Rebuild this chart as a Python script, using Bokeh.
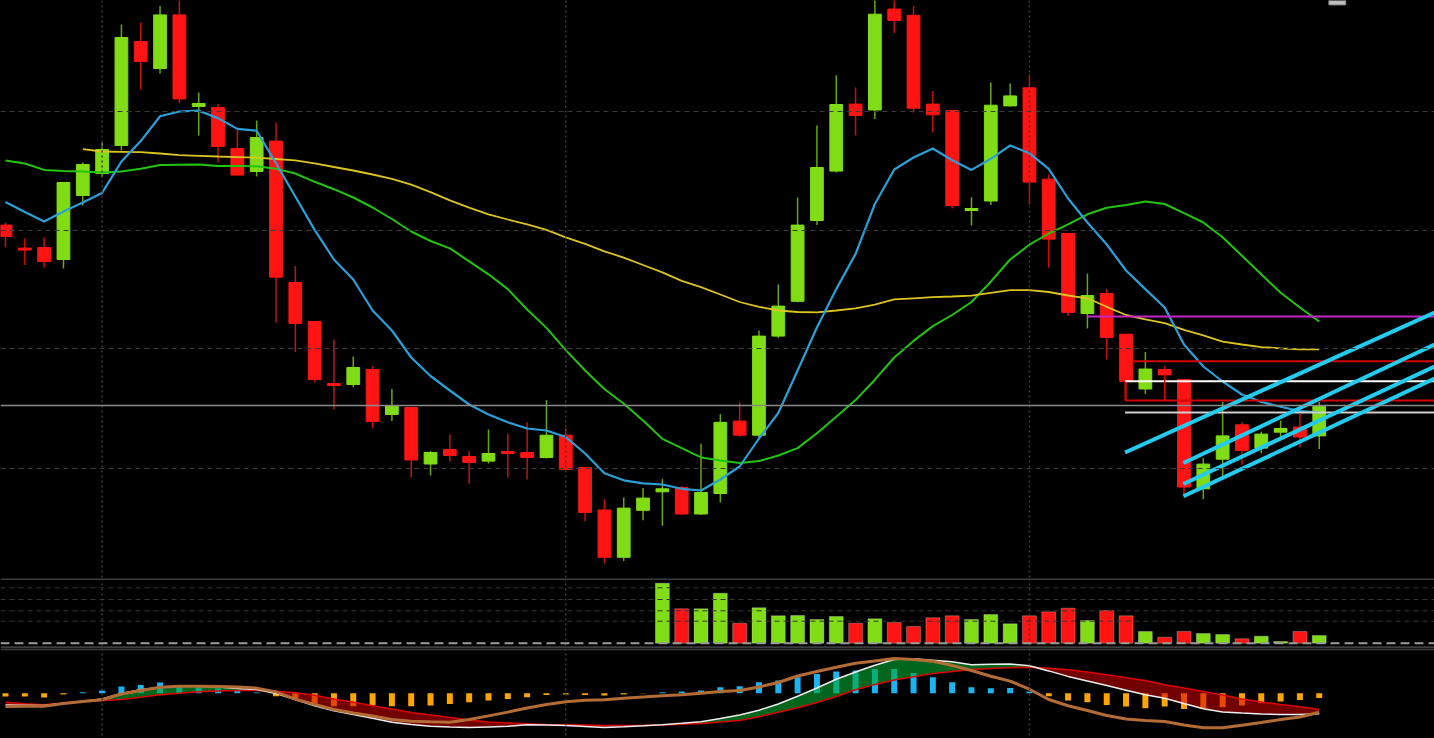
import numpy as np
from bokeh.plotting import figure
from bokeh.layouts import column
from bokeh.models import Span, Range1d, ColumnDataSource, GlobalInlineStyleSheet
from bokeh.embed import file_html
from bokeh.resources import INLINE

# ---------------- data ----------------
opens = [37.54, 35.16, 35.30, 34.10, 40.50, 42.70, 45.50, 55.90, 53.20, 58.56,
         49.40, 49.30, 45.20, 42.90, 45.94, 31.80, 27.90, 21.62, 21.60, 23.10,
         18.60, 19.30, 13.65, 15.10, 14.40, 13.94, 14.82, 14.80, 14.30, 16.53,
         13.30, 9.05, 4.32, 9.02, 10.87, 11.30, 8.65, 10.70, 17.94, 16.53,
         26.44, 29.92, 38.00, 42.94, 49.64, 49.05, 59.15, 58.52, 49.64, 49.00,
         39.05, 39.95, 49.46, 51.27, 42.13, 36.70, 28.70, 30.70, 26.63, 21.15,
         23.10, 22.10, 11.17, 14.13, 17.57, 15.24, 16.83, 17.34, 16.46]
highs = [37.80, 36.20, 36.30, 41.80, 43.80, 45.80, 57.60, 57.80, 59.45, 60.50,
         50.80, 49.64, 47.05, 48.00, 47.80, 33.44, 27.90, 26.10, 24.40, 23.45,
         21.15, 19.30, 14.94, 16.60, 14.94, 17.10, 16.64, 17.82, 20.04, 17.20,
         13.30, 10.13, 10.31, 11.24, 12.16, 11.46, 15.68, 18.64, 19.80, 27.00,
         31.60, 40.30, 47.50, 52.53, 51.30, 60.20, 60.20, 59.45, 50.94, 49.00,
         40.32, 51.80, 51.70, 52.60, 42.60, 36.70, 32.70, 31.14, 26.63, 24.85,
         23.45, 22.10, 14.24, 19.86, 17.82, 16.90, 18.00, 18.64, 19.86]
lows = [35.30, 33.55, 33.30, 33.20, 39.50, 42.30, 45.00, 51.10, 52.70, 49.75,
        46.50, 43.80, 42.50, 42.40, 27.80, 24.85, 21.80, 19.10, 21.34, 17.20,
        17.94, 12.30, 12.50, 13.90, 11.70, 13.70, 12.30, 12.10, 14.20, 13.00,
        7.90, 3.70, 3.95, 8.02, 7.47, 8.55, 8.55, 9.80, 16.40, 16.10,
        26.26, 29.80, 37.54, 42.80, 46.50, 48.16, 56.74, 48.80, 46.80, 39.20,
        37.50, 39.54, 49.40, 39.60, 33.30, 28.44, 27.20, 24.10, 20.00, 20.64,
        20.00, 10.60, 10.13, 12.46, 13.57, 14.70, 16.35, 15.30, 15.16]
closes = [36.40, 35.12, 33.90, 41.80, 43.60, 45.10, 56.30, 53.90, 58.56, 50.16,
          49.70, 45.40, 42.54, 46.30, 32.33, 27.70, 22.10, 21.58, 23.30, 17.90,
          19.45, 14.05, 14.80, 14.50, 13.80, 14.70, 14.78, 14.30, 16.53, 13.10,
          8.80, 4.32, 9.24, 10.24, 11.17, 8.65, 10.80, 17.82, 16.53, 26.44,
          29.44, 37.54, 43.30, 49.60, 48.50, 58.63, 58.00, 49.23, 48.57, 39.50,
          39.15, 49.53, 50.46, 41.84, 36.14, 28.81, 30.50, 26.30, 21.90, 23.15,
          22.56, 11.35, 13.64, 16.46, 15.00, 16.64, 17.20, 16.35, 19.42]

ma_fast = [39.84, 38.85, 37.90, 38.90, 39.81, 40.76, 43.90, 45.94, 48.42, 48.90,
           48.98, 48.24, 47.16, 46.98, 43.72, 40.40, 37.06, 34.10, 32.10, 29.00,
           27.00, 24.30, 22.45, 21.00, 19.60, 18.60, 17.82, 17.20, 17.00, 16.35,
           14.70, 12.72, 12.02, 11.72, 11.60, 11.17, 11.00, 12.10, 13.40, 16.20,
           18.75, 23.00, 27.30, 31.14, 34.66, 39.65, 43.10, 44.30, 45.20, 44.02,
           43.06, 44.17, 45.50, 44.72, 43.17, 40.20, 37.80, 35.60, 33.00, 31.14,
           29.30, 25.60, 23.40, 21.90, 20.60, 19.86, 19.38, 18.94, 18.80]
ma_mid = [44.00, 43.70, 43.06, 42.95, 42.90, 42.80, 42.90, 43.17, 43.54, 43.57,
          43.60, 43.46, 43.45, 43.43, 43.17, 42.70, 41.87, 41.13, 40.30, 39.30,
          38.15, 36.90, 35.95, 35.21, 33.92, 32.62, 31.14, 29.10, 27.26, 25.04,
          23.00, 21.15, 19.67, 18.00, 16.16, 15.24, 14.31, 14.00, 13.75, 13.94,
          14.50, 15.24, 16.72, 18.38, 20.04, 22.08, 24.30, 25.96, 27.44, 28.55,
          29.85, 31.88, 34.10, 35.58, 36.70, 37.62, 38.62, 39.28, 39.54, 39.91,
          39.65, 38.73, 37.80, 36.32, 34.47, 32.62, 30.77, 29.30, 27.90]
ma_slow_start = 4
ma_slow = [45.13, 44.90, 44.87, 44.83, 44.70, 44.54, 44.47, 44.40, 44.34, 44.28,
           44.15, 44.02, 43.72, 43.35, 43.00, 42.60, 42.17, 41.58, 40.84, 40.02,
           39.28, 38.62, 38.10, 37.62, 37.06, 36.32, 35.66, 34.92, 34.29, 33.55,
           32.81, 31.96, 31.33, 30.60, 29.85, 29.37, 29.00, 28.85, 28.81, 29.00,
           29.22, 29.59, 30.11, 30.22, 30.33, 30.40, 30.48, 30.77, 31.03, 31.03,
           30.85, 30.50, 30.22, 29.37, 28.55, 28.11, 27.74, 27.07, 26.52, 25.89,
           25.60, 25.34, 25.22, 25.11, 25.11]

vol_start = 34
volume = [6000, 3440, 3440, 5000, 2000, 3540, 2740, 2770, 2370, 2670,
          2000, 2440, 2070, 1670, 2540, 2740, 2370, 2870, 1940, 2740,
          3140, 3500, 2270, 3270, 2740, 1170, 600, 1170, 970, 870,
          440, 700, 170, 1170, 770]

dif = [-1.17, -1.20, -1.23, -1.01, -0.81, -0.58, -0.03, 0.34, 0.60, 0.70,
       0.70, 0.62, 0.47, 0.37, -0.03, -0.63, -1.25, -1.75, -2.13, -2.50,
       -2.90, -3.13, -3.30, -3.38, -3.43, -3.37, -3.31, -3.15, -3.18, -3.23,
       -3.33, -3.43, -3.35, -3.26, -3.15, -3.01, -2.85, -2.53, -2.18, -1.70,
       -1.08, -0.30, 0.52, 1.39, 2.12, 2.79, 3.37, 3.44, 3.30, 3.15,
       2.84, 2.89, 2.91, 2.74, 2.23, 1.68, 1.22, 0.77, 0.30, -0.15,
       -0.50, -1.03, -1.55, -1.89, -1.99, -2.07, -2.13, -2.12, -2.06]
dea = [-0.91, -1.05, -1.16, -0.99, -0.83, -0.73, -0.63, -0.40, -0.16, -0.01,
       0.15, 0.23, 0.27, 0.27, 0.19, 0.04, -0.21, -0.58, -0.91, -1.26,
       -1.59, -1.93, -2.19, -2.42, -2.68, -2.88, -2.97, -3.06, -3.13, -3.15,
       -3.19, -3.23, -3.23, -3.23, -3.18, -3.11, -3.03, -2.89, -2.73, -2.36,
       -1.91, -1.46, -0.93, -0.33, 0.34, 0.88, 1.32, 1.65, 1.97, 2.17,
       2.37, 2.47, 2.55, 2.60, 2.49, 2.35, 2.11, 1.84, 1.54, 1.27,
       0.85, 0.53, 0.17, -0.19, -0.59, -0.88, -1.13, -1.36, -1.63]
macd_slow = [-1.33, -1.31, -1.30, -1.03, -0.82, -0.65, -0.08, 0.27, 0.60, 0.70,
             0.70, 0.67, 0.61, 0.51, 0.13, -0.60, -1.12, -1.63, -1.97, -2.29,
             -2.63, -2.80, -2.86, -2.90, -2.63, -2.27, -1.89, -1.48, -1.13, -0.85,
             -0.70, -0.66, -0.51, -0.37, -0.26, -0.16, 0.00, 0.17, 0.27, 0.62,
             1.07, 1.72, 2.17, 2.60, 2.99, 3.23, 3.47, 3.37, 3.19, 2.77,
             2.27, 1.70, 1.21, 0.40, -0.63, -1.25, -1.73, -2.23, -2.57, -2.73,
             -2.83, -3.18, -3.46, -3.46, -3.20, -2.93, -2.63, -2.38, -1.90]
hist = [-0.33, -0.33, -0.43, -0.13, 0.10, 0.27, 0.67, 0.83, 1.07, 0.75,
        0.60, 0.50, 0.23, 0.07, -0.30, -0.50, -1.07, -1.30, -1.30, -1.23,
        -1.30, -1.30, -1.23, -1.07, -0.90, -0.73, -0.57, -0.40, -0.17, -0.13,
        -0.17, -0.23, -0.13, -0.03, 0.10, 0.17, 0.27, 0.60, 0.70, 1.10,
        1.27, 1.60, 1.93, 2.17, 2.27, 2.43, 2.43, 2.03, 1.60, 1.10,
        0.60, 0.50, 0.53, 0.17, -0.30, -0.73, -0.90, -1.17, -1.33, -1.50,
        -1.33, -1.57, -1.50, -1.40, -1.23, -1.00, -0.83, -0.67, -0.47]

# drawn objects (bar index / price)
trend_x0 = [57.95, 60.97, 60.97, 60.97]
trend_y0 = [14.80, 13.75, 11.65, 10.43]
trend_x1 = [73.97, 73.97, 73.97, 73.97]
trend_y1 = [28.80, 25.60, 23.40, 22.20]
level_price = [28.40, 23.93, 20.00, 21.93, 18.80]
level_start = [56.0, 58.33, 57.95, 57.95, 57.95]
level_color = ["#c428c4", "#d40000", "#d40000", "#ffffff", "#cfcfcf"]
ref_level = 19.50
grid_prices = [48.9, 37.0, 25.2, 13.2]
grid_bars = [5, 29, 53]
vol_grid = [5540, 4370, 3240, 2200]

# ---------------- layout ----------------
W = 1434
H_MAIN, H_VOL, H_MACD = 578, 70, 90
xr = Range1d(-0.259, 73.966)
BG = "#000000"
GREEN = "#80dc14"
RED = "#ff1414"


def mk(h, y0, y1):
    p = figure(width=W, height=h, x_range=xr, y_range=Range1d(y0, y1),
               output_backend="svg", toolbar_location=None,
               min_border=0, min_border_left=0, min_border_right=0,
               min_border_top=0, min_border_bottom=0,
               background_fill_color=BG, border_fill_color=BG)
    p.xaxis.visible = False
    p.yaxis.visible = False
    p.xgrid.visible = False
    p.ygrid.visible = False
    p.outline_line_color = None
    for b in grid_bars:
        p.add_layout(Span(location=b, dimension="height", line_color="#3c3c3c",
                          line_width=1.5, line_dash="2 3"))
    return p


idx = np.arange(len(opens))
o = np.array(opens); c = np.array(closes); h = np.array(highs); l = np.array(lows)
up = c >= o

# ---- main panel ----
p1 = mk(H_MAIN, 2.2, 60.0)
for g in grid_prices:
    p1.add_layout(Span(location=g, dimension="width", line_color="#3a3a3a",
                       line_width=1, line_dash="5 4"))

body_top = np.maximum(o, c)
body_bot = np.minimum(o, c)
thin = (body_top - body_bot) < 0.2
mid = (body_top + body_bot) / 2
body_top = np.where(thin, mid + 0.1, body_top)
body_bot = np.where(thin, mid - 0.1, body_bot)

src = ColumnDataSource(dict(
    x=idx, h=h, l=l, top=body_top, bot=body_bot,
    col=[GREEN if u else RED for u in up],
    wcol=["#64a812" if u else "#c81010" for u in up]))
p1.segment(x0="x", y0="h", x1="x", y1="l", source=src, line_color="wcol", line_width=1.5)
p1.vbar(x="x", top="top", bottom="bot", width=0.66, source=src,
        fill_color="col", line_color="col", line_width=1)

p1.line(idx, ma_mid, line_color="#22c40e", line_width=2)
p1.line(idx[ma_slow_start:], ma_slow, line_color="#dcc420", line_width=1.8)
p1.line(idx, ma_fast, line_color="#2aa0d8", line_width=2.2)

p1.add_layout(Span(location=ref_level, dimension="width", line_color="#8a8a8a",
                   line_width=1.5))
for yv, xs, col in zip(level_price, level_start, level_color):
    p1.segment(x0=[xs], y0=[yv], x1=[75], y1=[yv], line_color=col, line_width=2)
p1.segment(x0=[57.95, 60.0], y0=[21.90, 22.56], x1=[57.95, 60.0], y1=[20.0, 20.0],
           line_color="#d40000", line_width=1.5)
p1.segment(x0=trend_x0, y0=trend_y0, x1=trend_x1, y1=trend_y1,
           line_color="#22ccf0", line_width=4)
p1.quad(left=[68.5], right=[69.37], top=[60.2], bottom=[59.56],
        fill_color="#bdbdbd", line_color="#8a8a8a")

# ---- volume panel ----
p2 = mk(H_VOL, -530, 6470)
for g in vol_grid:
    p2.add_layout(Span(location=g, dimension="width", line_color="#363636",
                       line_width=1, line_dash="5 4"))
p2.add_layout(Span(location=0, dimension="width", line_color="#9a9a9a",
                   line_width=2, line_dash="9 5"))
p2.add_layout(Span(location=6430, dimension="width", line_color="#3c3c3c", line_width=2))
p2.add_layout(Span(location=-400, dimension="width", line_color="#3c3c3c", line_width=2))
vidx = idx[vol_start:]
vcol = [GREEN if u else RED for u in up[vol_start:]]
p2.vbar(x=vidx, top=volume, bottom=0, width=0.72, fill_color=vcol,
        line_color="#ffffff", line_alpha=0.25, line_width=1)

# ---- MACD panel ----
p3 = mk(H_MACD, -4.53, 4.47)
p3.add_layout(Span(location=4.40, dimension="width", line_color="#3c3c3c", line_width=2))
hcol = ["#1ab4f0" if v >= 0 else "#ffa500" for v in hist]
p3.vbar(x=idx, top=hist, bottom=0, width=0.31, fill_color=hcol, line_color=None)
d1 = np.array(dif); d2 = np.array(dea)
p3.varea(x=idx, y1=d2, y2=np.maximum(d1, d2), fill_color="#00a830", fill_alpha=0.6)
p3.varea(x=idx, y1=d1, y2=np.maximum(d1, d2), fill_color="#d00000", fill_alpha=0.55)
p3.line(idx, dea, line_color="#e00000", line_width=1.5)
p3.line(idx, dif, line_color="#eeeeee", line_width=1.5)
p3.line(idx, macd_slow, line_color="#b46c36", line_width=3)

layout = column(p1, p2, p3, spacing=0,
                styles={"background-color": BG},
                stylesheets=[GlobalInlineStyleSheet(
                    css="html,body{margin:0 !important;padding:0;background:#000;overflow:hidden;}")])

open("out.html", "w").write(file_html(layout, INLINE))
